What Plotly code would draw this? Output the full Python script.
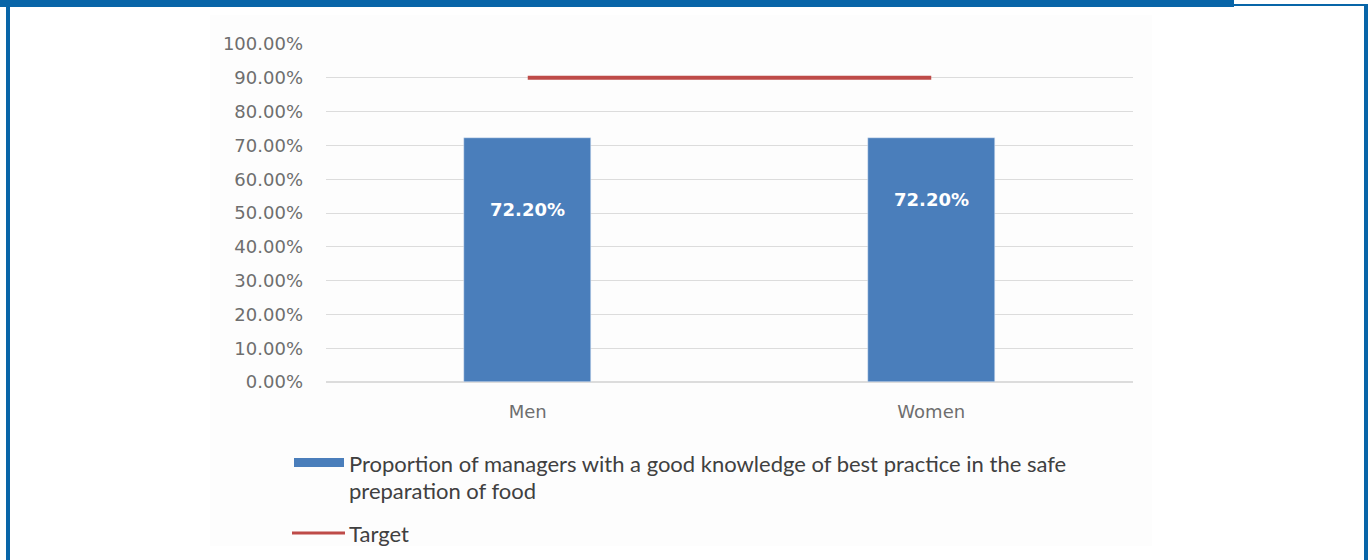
import plotly.graph_objects as go

# ---- data ----
categories = ["Men", "Women"]
proportion = [0.722, 0.722]
target = [0.90, 0.90]
bar_labels = ["72.20%", "72.20%"]
series_name = "Proportion of managers with a good knowledge of best practice in the safe preparation of food"
legend_lines = ["Proportion of managers with a good knowledge of best practice in the safe",
                "preparation of food"]
target_name = "Target"

# ---- geometry helpers (pixel -> paper) ----
W, H = 1369, 560
L, R, T, B = 326, 1133, 44, 382
def px(x):
    return (x - L) / (R - L)
def py(y):
    return (B - y) / (B - T)

BLUE_FRAME = "#0865A8"
BAR = "#4A7EBB"
RED = "#BE4B48"

fig = go.Figure()
fig.add_trace(go.Bar(x=categories, y=proportion, name=series_name, marker_color=BAR,
                     width=0.315, showlegend=False))
fig.add_trace(go.Scatter(x=categories, y=target, name=target_name, mode="lines",
                         line=dict(color=RED, width=4), showlegend=False))

# bar value labels (inside bars)
label_pos = [0.51, 0.54]
for c, t, yv in zip(categories, bar_labels, label_pos):
    fig.add_annotation(x=c, y=yv, text=t, showarrow=False,
                       font=dict(family="DejaVu Sans", size=18, color="white", weight="bold"))

shapes = []
# chart area subtle background
shapes.append(dict(type="rect", xref="paper", yref="paper", x0=px(210), x1=px(1152),
                   y0=py(546), y1=py(15), fillcolor="#fdfdfd", line=dict(width=0), layer="below"))
# frame
shapes.append(dict(type="rect", xref="paper", yref="paper", x0=px(0), x1=px(1234),
                   y0=py(7), y1=py(0), fillcolor=BLUE_FRAME, line=dict(width=0)))
shapes.append(dict(type="rect", xref="paper", yref="paper", x0=px(1234), x1=px(1366),
                   y0=py(6), y1=py(4), fillcolor=BLUE_FRAME, line=dict(width=0)))
shapes.append(dict(type="rect", xref="paper", yref="paper", x0=px(6), x1=px(10),
                   y0=py(560), y1=py(0), fillcolor=BLUE_FRAME, line=dict(width=0)))
shapes.append(dict(type="rect", xref="paper", yref="paper", x0=px(1364), x1=px(1368),
                   y0=py(560), y1=py(4), fillcolor=BLUE_FRAME, line=dict(width=0)))
# legend swatches
shapes.append(dict(type="rect", xref="paper", yref="paper", x0=px(294), x1=px(344),
                   y0=py(467), y1=py(458), fillcolor=BAR, line=dict(width=0)))
shapes.append(dict(type="line", xref="paper", yref="paper", x0=px(292), x1=px(345),
                   y0=py(533), y1=py(533), line=dict(color=RED, width=3)))

legend_font = dict(family="Lato, sans-serif", size=22, color="#404040")
fig.add_annotation(xref="paper", yref="paper", x=px(347), y=py(463), text=legend_lines[0],
                   showarrow=False, xanchor="left", yanchor="middle", font=legend_font)
fig.add_annotation(xref="paper", yref="paper", x=px(347), y=py(490), text=legend_lines[1],
                   showarrow=False, xanchor="left", yanchor="middle", font=legend_font)
fig.add_annotation(xref="paper", yref="paper", x=px(347), y=py(533), text=target_name,
                   showarrow=False, xanchor="left", yanchor="middle", font=legend_font)

fig.update_layout(
    width=W, height=H,
    margin=dict(l=L, r=W - R, t=T, b=H - B, autoexpand=False),
    paper_bgcolor="white", plot_bgcolor="rgba(0,0,0,0)",
    shapes=shapes,
    showlegend=False,
    bargap=0,
)
fig.update_yaxes(range=[0, 1], dtick=0.1, tickformat=".2%", showgrid=True,
                 gridcolor="#dcdcdc", gridwidth=1, zeroline=True, zerolinecolor="#dcdcdc",
                 showline=False, ticks="", ticklabelstandoff=22,
                 tickfont=dict(family="DejaVu Sans", size=18, color="#6e6e6e"))
fig.update_xaxes(showgrid=False, showline=False, ticks="", ticklabelstandoff=17,
                 tickfont=dict(family="DejaVu Sans", size=18, color="#6e6e6e"))

fig.write_html("out.html")
